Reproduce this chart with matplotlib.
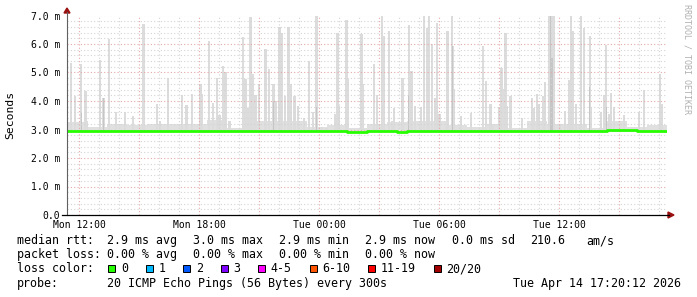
"""
SmokePing style latency graph (last 30 hours) nachgebaut mit matplotlib.
"""
import numpy as np
import matplotlib
matplotlib.use("Agg")
import matplotlib.pyplot as plt
from matplotlib.patches import Polygon, Rectangle
from matplotlib.lines import Line2D

W, H = 697, 297

# ---- data (time in hours since Mon 00:00, latency in ms) ----
# tallest ping of each noisy 5-min sample
spike_hours = [11.60, 11.785, 12.10, 12.30, 12.385, 13.035, 13.20, 13.485, 13.82, 14.285,
               14.685, 15.20, 15.87, 16.035, 16.45, 17.12, 17.35, 17.385, 17.635, 18.05,
               18.135, 18.47, 18.685, 18.87, 19.0, 19.2, 19.3, 19.5, 20.2, 20.3,
               20.45, 20.55, 20.67, 20.8, 20.97, 21.3, 21.47, 21.7, 21.835, 22.0,
               22.12, 22.285, 22.45, 22.585, 22.75, 22.92, 23.22, 23.47, 23.685, 23.85,
               24.135, 24.35, 24.77, 24.9, 24.97, 25.35, 25.435, 26.1, 26.185, 26.72,
               26.885, 27.135, 27.235, 27.485, 27.65, 27.735, 28.15, 28.47, 28.6, 28.77,
               29.07, 29.235, 29.385, 29.485, 29.635, 29.785, 29.87, 30.0, 30.335, 30.4,
               30.62, 30.67, 30.735, 31.07, 31.57, 32.2, 32.335, 32.57, 32.7, 32.985,
               33.12, 33.235, 33.32, 33.4, 33.57, 34.12, 34.62, 34.735, 34.87, 34.985,
               35.17, 35.3, 35.47, 35.55, 35.64, 35.72, 36.05, 36.3, 36.435, 36.47,
               36.6, 36.685, 36.85, 37.1, 37.22, 37.52, 37.6, 38.1, 38.22, 38.35,
               38.47, 38.6, 38.72, 39.22, 39.97, 40.22, 41.02, 41.135]
spike_ms = [5.35, 4.17, 5.29, 4.35, 3.3, 5.43, 4.1, 6.19, 3.62, 3.62,
            3.49, 6.69, 3.88, 3.3, 4.82, 4.2, 3.85, 3.83, 4.26, 4.58,
            4.26, 6.11, 3.94, 4.82, 3.5, 5.23, 5.03, 3.3, 6.23, 4.76,
            3.76, 6.95, 4.94, 4.21, 4.58, 5.84, 5.11, 4.58, 4.0, 6.61,
            6.40, 4.17, 6.61, 4.58, 4.17, 3.83, 3.4, 5.4, 3.6, 7.0,
            3.1, 3.05, 3.55, 6.40, 3.83, 6.85, 4.76, 6.34, 4.58, 5.29,
            4.21, 7.0, 6.28, 6.46, 3.3, 3.76, 4.82, 6.67, 5.05, 3.83,
            3.8, 7.0, 6.55, 7.0, 5.99, 4.1, 6.72, 3.55, 3.1, 6.46,
            7.0, 5.94, 4.41, 3.46, 3.58, 5.93, 4.7, 3.88, 3.2, 3.8,
            5.17, 4.41, 6.37, 3.83, 4.17, 3.4, 4.1, 3.76, 4.26, 3.88,
            4.17, 4.68, 7.0, 7.0, 7.0, 7.0, 3.2, 3.64, 3.2, 4.73,
            7.0, 6.46, 3.88, 7.0, 6.55, 6.28, 3.8, 3.6, 4.21, 5.96,
            3.55, 4.29, 3.8, 3.5, 3.6, 4.37, 4.94, 3.88]

# denser (darker) part of some smoke columns
dark_hours = [12.10, 13.20, 21.7, 23.85, 28.47, 30.67, 35.55, 35.64, 37.52, 38.35]
dark_ms = [3.6, 4.1, 4.0, 3.8, 4.2, 5.94, 7.0, 5.5, 4.5, 3.8]

# hourly level of the continuous low smoke band (start hour 11.4)
band_start = 11.4
band_ms = [3.25, 3.1, 3.2, 3.15, 3.2, 3.2, 3.18, 3.35, 3.05, 3.3,
           3.3, 3.3, 3.1, 3.15, 3.05, 3.2, 3.25, 3.3, 3.3, 3.15,
           3.1, 3.2, 3.05, 3.3, 3.2, 3.2, 3.05, 3.3, 3.1, 3.15]

# median rtt, half-hour steps from band_start
median_ms = [2.94, 2.95, 2.94, 2.94, 2.95, 2.95,
             2.96, 2.96, 2.95, 2.96, 2.96, 2.95, 2.95,
             2.95, 2.95, 2.95, 2.95, 2.95, 2.94, 2.95, 2.95, 2.95, 2.94, 2.94, 2.94,
             2.93, 2.93, 2.93, 2.92, 2.92, 2.93, 2.93, 2.93, 2.92, 2.93, 2.93, 2.93, 2.94,
             2.94, 2.94, 2.94, 2.95, 2.94, 2.94, 2.94, 2.95, 2.94, 2.94, 2.95, 2.95,
             2.95, 2.95, 2.94, 2.95, 2.97, 2.98, 2.98, 2.96, 2.94, 2.94]

x_label_hours = [12, 18, 24, 30, 36]
x_labels = ["Mon 12:00", "Mon 18:00", "Tue 00:00", "Tue 06:00", "Tue 12:00"]
y_ticks = [0, 1, 2, 3, 4, 5, 6, 7]
y_labels = ["0.0", "1.0 m", "2.0 m", "3.0 m", "4.0 m", "5.0 m", "6.0 m", "7.0 m"]

loss_labels = ["0", "1", "2", "3", "4-5", "6-10", "11-19", "20/20"]
loss_colors = ["#26ff00", "#00b8ff", "#0059ff", "#7e00ff", "#ff00ff", "#ff5500", "#ff0000", "#a10000"]

MONO = "DejaVu Sans Mono"


def fx(x):
    return x / W


def fy(y):
    return 1 - y / H


fig = plt.figure(figsize=(W / 100, H / 100), dpi=100)
fig.patch.set_facecolor("white")

ax = fig.add_axes([fx(67), fy(215), 600 / W, 199.5 / H])
ax.set_xlim(12 - 12.3 / 20, 12 - 12.3 / 20 + 30)
ax.set_ylim(0, 7.0)
for s in ax.spines.values():
    s.set_visible(False)

# smoke
band_x = band_start + np.arange(len(band_ms) + 1)
ax.fill_between(band_x, 2.9, list(band_ms) + [band_ms[-1]], step="post",
                color="#e0e0e0", lw=0, zorder=1)
sh = np.array(spike_ms)
ax.bar(spike_hours, sh - 2.9, bottom=2.9, width=0.12, color="#dcdcdc", lw=0, zorder=2)
dh = np.array(dark_ms)
ax.bar(dark_hours, dh - 2.9, bottom=2.9, width=0.07, color="#c6c6c6", lw=0, zorder=2)

# grid (on top of smoke)
dot = (0, (1, 2))
minor_c, major_c = "#d4d4d4", "#e6a8a8"
for h in np.arange(12, 42):
    major = (h % 3 == 0)
    ax.axvline(h, color=major_c if major else minor_c, lw=0.8, ls=dot, zorder=3)
for v in np.arange(0.2, 7.01, 0.2):
    major = abs(v - round(v)) < 1e-6
    ax.axhline(v, color=major_c if major else minor_c, lw=0.8, ls=dot, zorder=3)

# median line
med_x = band_start + 0.5 * np.arange(len(median_ms) + 1)
ax.step(med_x, list(median_ms) + [median_ms[-1]], where="post", color="#26ff00", lw=2.0, zorder=4)

ax.set_xticks(x_label_hours)
ax.set_xticklabels(x_labels, fontfamily=MONO, fontsize=7)
ax.set_yticks(y_ticks)
ax.set_yticklabels(y_labels, fontfamily=MONO, fontsize=7)
ax.tick_params(axis="y", length=0, pad=5)
ax.tick_params(axis="x", length=0, pad=3.5)

# axes lines + arrows
fig.add_artist(Line2D([fx(67), fx(67)], [fy(12), fy(215)], color="#606060", lw=0.8))
fig.add_artist(Line2D([fx(62), fx(669)], [fy(215), fy(215)], color="black", lw=0.9))
fig.add_artist(Polygon([[fx(64), fy(13)], [fx(70), fy(13)], [fx(67), fy(8)]],
                       closed=True, color="#9a1010"))
fig.add_artist(Polygon([[fx(668), fy(212)], [fx(668), fy(218)], [fx(674), fy(215)]],
                       closed=True, color="#9a1010"))

fig.text(fx(10), fy(115), "Seconds", rotation=90, ha="center", va="center",
         fontfamily=MONO, fontsize=8.2)
fig.text(fx(687), fy(4), "RRDTOOL / TOBI OETIKER", rotation=-90, ha="center", va="top",
         fontfamily=MONO, fontsize=6, color="#b0b0b0")

# legend text
fs = 8.4
rows = [244, 258.3, 272.5, 286.7]
line1 = [(16.7, "median rtt:"), (107.3, "2.9 ms avg"), (193.3, "3.0 ms max"),
         (279.3, "2.9 ms min"), (365, "2.9 ms now"), (451.7, "0.0 ms sd"),
         (530, "210.6"), (586, "am/s")]
line2 = [(16.7, "packet loss:"), (107.3, "0.00 % avg"), (193.3, "0.00 % max"),
         (279.3, "0.00 % min"), (365, "0.00 % now")]
for x, t in line1:
    fig.text(fx(x), fy(rows[0]), t, fontfamily=MONO, fontsize=fs, va="baseline")
for x, t in line2:
    fig.text(fx(x), fy(rows[1]), t, fontfamily=MONO, fontsize=fs, va="baseline")

fig.text(fx(16.7), fy(rows[2]), "loss color:", fontfamily=MONO, fontsize=fs, va="baseline")
bx = 108.3
for lab, col in zip(loss_labels, loss_colors):
    fig.add_artist(Rectangle((fx(bx), fy(272)), 7 / W, 7 / H, facecolor=col,
                             edgecolor="black", lw=0.7))
    fig.text(fx(bx + 12.5), fy(rows[2]), lab, fontfamily=MONO, fontsize=fs, va="baseline")
    bx = bx + 12.5 + 7 * len(lab) + 18

fig.text(fx(16.7), fy(rows[3]), "probe:", fontfamily=MONO, fontsize=fs, va="baseline")
fig.text(fx(107.3), fy(rows[3]), "20 ICMP Echo Pings (56 Bytes) every 300s",
         fontfamily=MONO, fontsize=fs, va="baseline")
fig.text(fx(681), fy(rows[3]), "Tue Apr 14 17:20:12 2026", fontfamily=MONO,
         fontsize=fs, va="baseline", ha="right")

fig.savefig("out.png", dpi=100)
